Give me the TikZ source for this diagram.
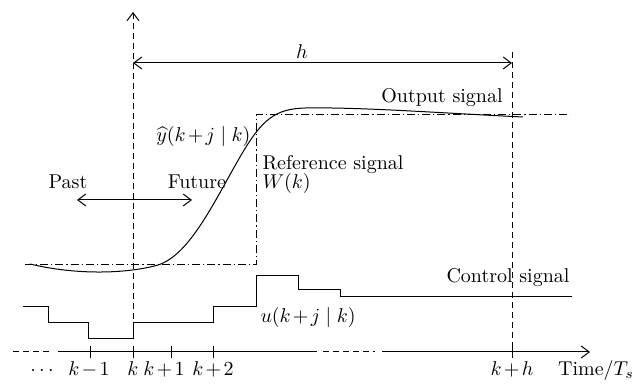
\documentclass[tikz,border=0pt]{standalone}
\usetikzlibrary{arrows.meta}
\medmuskip=2mu plus 1mu minus 1mu
\begin{document}
\begin{tikzpicture}[x=0.5pt,y=-0.5pt,
  font=\fontsize{10}{12}\selectfont,
  line width=0.5pt,
  >={Straight Barb[length=4pt,width=6pt]},
  vdash/.style={dash pattern=on 3pt off 2pt},
  refline/.style={dash pattern=on 4pt off 1.5pt on 0.6pt off 1.5pt},
  lbl/.style={inner sep=0pt},
  axlbl/.style={inner sep=0pt,anchor=base}]
\useasboundingbox (0,0) rectangle (643,384);
% key coordinates
\coordinate (ktop) at (133,12);
\coordinate (kbot) at (133,339);
\coordinate (htop) at (512,52);
\coordinate (hbot) at (512,352);
\coordinate (hl) at (133,63);
\coordinate (hr) at (512,63);
\coordinate (pl) at (77,200);
\coordinate (pr) at (192,200);
% vertical dashed lines
\draw[vdash,->] (kbot) -- (ktop);
\draw[vdash] (htop) -- (hbot);
% horizon arrow
\draw[<->] (hl) -- (hr);
\node[lbl] (hlab) at (302,52) {$h$};
% time axis
\coordinate (a0) at (13,352);
\coordinate (a1) at (50,352);
\coordinate (a2) at (58,352);
\coordinate (a3) at (317,352);
\coordinate (a4) at (323,352);
\coordinate (a5) at (375,352);
\coordinate (a6) at (382,352);
\coordinate (a7) at (590,352);
\draw[vdash] (a0) -- (a1);
\draw (a2) -- (a3);
\draw[vdash] (a4) -- (a5);
\draw[->] (a6) -- (a7);
\foreach \x in {90,133,171,213,512} \draw (\x,346) -- (\x,358);
\node[axlbl] (ldots) at (42,376) {$\cdots$};
\node[axlbl] (lkm1) at (89,376) {$k-1$};
\node[axlbl] (lk) at (133,376) {$k$};
\node[axlbl] (lkp1) at (164,376) {$k+1$};
\node[axlbl] (lkp2) at (213,376) {$k+2$};
\node[axlbl] (lkh) at (512,376) {$k+h$};
\node[axlbl] (ltime) at (596,376) {Time/$T_s$};
% reference signal (dash-dot)
\draw[refline] (25,265) -- (256,265) -- (256,115) -- (570,115);
% output curve
\draw (30,264) .. controls (80,276) and (130,273) .. (158,265)
  .. controls (190,255) and (215,200) .. (240,157)
  .. controls (262,119) and (275,109) .. (305,108)
  .. controls (360,107) and (440,113) .. (523,117);
% control signal
\draw (23,307) -| (48,323) -| (88,339) -| (133,323) -| (213,307) -| (256,276) -| (298,290) -| (340,297) -- (572,297);
% past / future
\draw[<->] (pl) -- (pr);
\node[lbl] (past) at (68,182) {Past};
\node[lbl] (future) at (197,182) {Future};
% labels
\node[lbl] (outlab) at (442,98) {Output signal};
\node[lbl,anchor=east] (yhat) at (251,137) {$\widehat{y}(k+j\mid k)$};
\node[lbl,anchor=west] (reflab) at (262,165) {Reference signal};
\node[lbl,anchor=west] (wlab) at (262,184) {$W(k)$};
\node[lbl] (ctrllab) at (508,278) {Control signal};
\node[lbl,anchor=west] (ulab) at (260,318) {$u(k+j\mid k)$};
\end{tikzpicture}
\end{document}
